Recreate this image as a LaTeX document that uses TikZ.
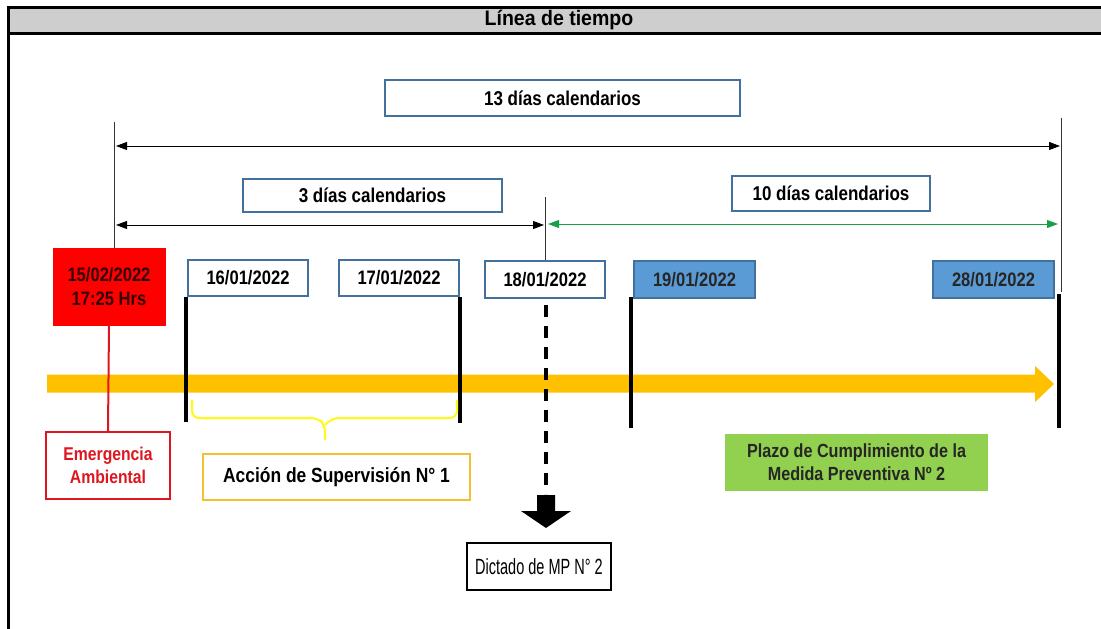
\documentclass[tikz,border=0pt]{standalone}
\usepackage{fontspec}
\setmainfont{Liberation Sans}
\newfontfamily\nb[FakeStretch=0.85]{Liberation Sans}
\newfontfamily\tb[FakeStretch=0.93]{Liberation Sans}
\newfontfamily\nr[FakeStretch=0.66]{Liberation Sans}
\usetikzlibrary{arrows.meta}
\definecolor{titlegray}{RGB}{206,206,206}
\definecolor{boxblue}{RGB}{65,113,156}
\definecolor{fillblue}{RGB}{91,155,213}
\definecolor{tlorange}{RGB}{255,192,0}
\definecolor{arrgreen}{RGB}{24,160,72}
\definecolor{plazogreen}{RGB}{146,208,80}
\definecolor{accgold}{RGB}{242,192,50}
\definecolor{emred}{RGB}{222,22,32}
\definecolor{darkred}{RGB}{50,0,0}
\definecolor{braceyellow}{RGB}{255,250,20}
\tikzset{
  datebox/.style={draw=boxblue, line width=1.2pt, fill=white, inner sep=0pt,
    minimum width=120pt, minimum height=36pt, font=\nb\bfseries\fontsize{19.5}{22}\selectfont},
  bluebox/.style={datebox, fill=fillblue, text=black!85},
  daysbox/.style={draw=boxblue, line width=1.2pt, fill=white, inner sep=0pt,
    font=\nb\bfseries\fontsize{20}{22}\selectfont},
  dimarrow/.style={line width=0.9pt, {Triangle[length=11pt,width=8pt]}-{Triangle[length=11pt,width=8pt]}},
  thinline/.style={line width=0.8pt, draw=black!80},
  tick/.style={line width=3.6pt},
}
\begin{document}
\begin{tikzpicture}[x=1pt,y=-1pt]
\useasboundingbox (0,0) rectangle (1101,629);
\fill[white] (0,0) rectangle (1101,629);
% frame and title
\fill[titlegray] (8,7) rectangle (1101,33);
\draw[line width=3pt] (6.5,7) -- (1101,7);
\draw[line width=3pt] (8,33) -- (1101,33);
\draw[line width=2.5pt] (8.5,5.5) -- (8.5,629);
\node[font=\tb\bfseries\fontsize{21}{24}\selectfont] (title) at (559,20) {Línea de tiempo};

% day span boxes
\node[daysbox, minimum width=355pt, minimum height=36pt] (d13) at (562.5,98) {13 días calendarios};
\node[daysbox, minimum width=259pt, minimum height=33pt] (d3) at (372.5,195.5) {3 días calendarios};
\node[daysbox, minimum width=198pt, minimum height=35pt] (d10) at (831,193.5) {10 días calendarios};

% date boxes
\node[draw=red, fill=red, inner sep=0pt, minimum width=112pt, minimum height=77pt, align=center,
  text=darkred, font=\nb\bfseries\fontsize{19.5}{24}\selectfont] (red) at (109,286.5) {15/02/2022\\17:25 Hrs};
\node[datebox] (b16) at (248,278) {16/01/2022};
\node[datebox] (b17) at (399,278) {17/01/2022};
\node[datebox, minimum height=37pt] (b18) at (545,279.5) {18/01/2022};
\node[bluebox, minimum width=121pt, minimum height=37pt] (b19) at (694.5,279.5) {19/01/2022};
\node[bluebox, minimum width=121pt, minimum height=37pt] (b28) at (993.5,279.5) {28/01/2022};

% lower boxes
\node[draw=emred, line width=2pt, fill=white, inner sep=0pt, minimum width=124pt, minimum height=67pt,
  align=center, text=emred, font=\nb\bfseries\fontsize{18.5}{23}\selectfont] (emerg) at (108,465.5) {Emergencia\\Ambiental};
\node[draw=accgold, line width=2.4pt, fill=white, inner sep=0pt, minimum width=267pt, minimum height=46pt,
  font=\nb\bfseries\fontsize{20.5}{24}\selectfont] (accion) at (336.5,477) {Acción de Supervisión N° 1};
\node[fill=plazogreen, inner sep=0pt, minimum width=263pt, minimum height=57pt, align=center,
  text=black!85, font=\nb\bfseries\fontsize{19}{23}\selectfont] (plazo) at (856.5,462.5) {Plazo de Cumplimiento de la\\Medida Preventiva Nº 2};
\node[draw=black, line width=1.6pt, fill=white, inner sep=0pt, minimum width=144pt, minimum height=47pt,
  font=\nr\fontsize{22}{24}\selectfont] (dictado) at (539,566.5) {Dictado de MP N° 2};

% guide coordinates
\coordinate (v13top) at (114,122);
\coordinate (v13bot) at (114,248);
\coordinate (r13top) at (1061,118);
\coordinate (r13bot) at (1061,292);
\coordinate (a13l) at (116,146);
\coordinate (a13r) at (1060,146);
\coordinate (a3l) at (116,225);
\coordinate (a3r) at (544,225);
\coordinate (g10l) at (548,224);
\coordinate (g10r) at (1058,224);
\coordinate (v18top) at (545,197);

% vertical guide lines
\draw[thinline] (v13top) -- (v13bot);
\draw[thinline] (r13top) -- (r13bot);
\draw[thinline] (v18top) -- (b18.north);

% dimension arrows
\draw[dimarrow] (a13l) -- (a13r);
\draw[dimarrow] (a3l) -- (a3r);
\draw[dimarrow, draw=arrgreen, fill=arrgreen] (g10l) -- (g10r);

% orange time arrow
\coordinate (oa) at (47,383);
\fill[tlorange] (47,374.5) -- (1035,374.5) -- (1035,366) -- (1054,384) -- (1035,402) -- (1035,392.5) -- (47,392.5) -- cycle;

% red connector
\draw[emred, line width=2pt] (red.south) -- (emerg.north);

% thick ticks
\coordinate (t16a) at (186,297); \coordinate (t16b) at (186,422);
\coordinate (t17a) at (460,297); \coordinate (t17b) at (460,423);
\coordinate (t19a) at (631,297); \coordinate (t19b) at (631,428);
\coordinate (t28a) at (1059,294); \coordinate (t28b) at (1059,428);
\draw[tick] (t16a) -- (t16b);
\draw[tick] (t17a) -- (t17b);
\draw[tick] (t19a) -- (t19b);
\draw[tick] (t28a) -- (t28b);

% dashed line and block arrow
\coordinate (dsa) at (546,305);
\coordinate (dsb) at (546,494);
\draw[line width=3.5pt, dash pattern=on 12pt off 9pt] (dsa) -- (dsb);
\fill[black] (537,495) -- (555,495) -- (555,511) -- (571,511) -- (546,528) -- (521,511) -- (537,511) -- cycle;

% yellow brace
\draw[braceyellow, line width=2pt, rounded corners=7pt] (192,400) -- (192,418) -- (318,418) -- (325,425) -- (325,440);
\draw[braceyellow, line width=2pt, rounded corners=7pt] (457,400) -- (457,418) -- (332,418) -- (325,425);
\end{tikzpicture}
\end{document}
